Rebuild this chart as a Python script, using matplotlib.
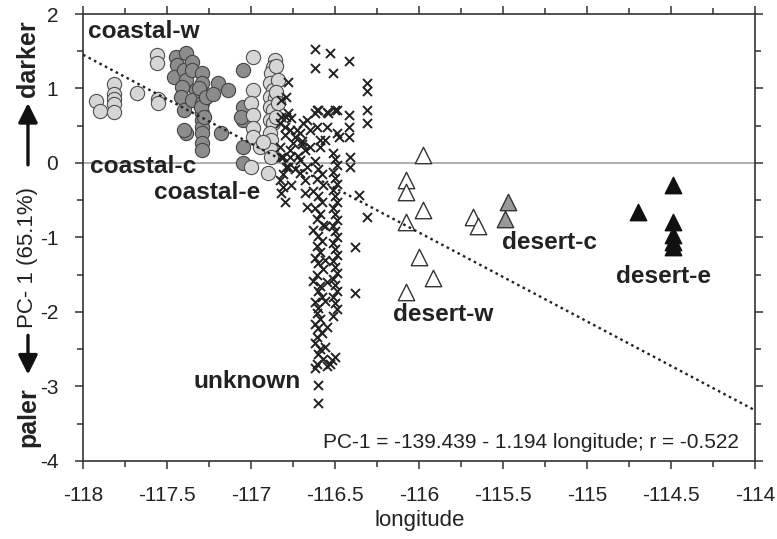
import matplotlib
matplotlib.use("Agg")
import matplotlib.pyplot as plt
import numpy as np

plt.rcParams['font.family'] = ['Liberation Sans', 'DejaVu Sans']

# coastal-w : light circles (west)
cw_lon = [-117.925, -117.90, -117.815, -117.815, -117.815, -117.815, -117.815,
          -117.68, -117.56, -117.56, -117.555, -117.555]
cw_pc1 = [0.83, 0.70, 1.06, 0.93, 0.86, 0.79, 0.68, 0.94, 1.45, 1.34, 0.86, 0.80]

# coastal-c : dark circles
cc_lon = [-117.45, -117.39, -117.44, -117.46, -117.40, -117.39, -117.35, -117.35,
          -117.41, -117.42, -117.40, -117.33, -117.35, -117.39, -117.40,
          -117.29, -117.29, -117.29, -117.29, -117.29, -117.29, -117.29, -117.29,
          -117.29, -117.29, -117.31, -117.30, -117.27, -117.28,
          -117.20, -117.14, -117.18, -117.23,
          -117.05, -117.05, -117.05, -117.05, -117.05, -117.06]
cc_pc1 = [1.42, 1.48, 1.32, 1.15, 1.25, 1.11, 1.36, 1.25,
          1.02, 0.89, 0.71, 0.98, 0.85, 0.40, 0.44,
          1.21, 1.07, 0.94, 0.81, 0.67, 0.58, 0.48, 0.40,
          0.27, 0.17, 1.00, 0.75, 0.88, 0.62,
          1.07, 0.98, 0.40, 0.92,
          1.25, 0.75, 0.58, 0.21, 0.00, 0.62]

# coastal-e : light circles (east)
ce_lon = [-116.99, -116.99, -117.00, -116.99, -116.99, -116.99, -117.00, -116.95,
          -116.86, -116.87, -116.88, -116.89, -116.87, -116.89, -116.86, -116.89,
          -116.87, -116.89, -116.87, -116.89, -116.88, -116.88, -116.88, -116.90,
          -116.85, -116.84, -116.85, -116.84, -116.85, -116.93]
ce_pc1 = [1.42, 0.98, 0.81, 0.64, 0.47, 0.35, -0.05, 0.21,
          1.38, 1.29, 1.21, 1.07, 0.98, 0.89, 0.87, 0.75,
          0.71, 0.58, 0.54, 0.40, 0.31, 0.17, 0.08, -0.13,
          1.30, 1.12, 0.95, 0.80, 0.62, 0.28]

# unknown : crosses
un_lon = [-116.62, -116.53, -116.42, -116.62, -116.51,
          -116.31, -116.31, -116.31, -116.31,
          -116.42, -116.42, -116.42, -116.41, -116.41,
          -116.60, -116.55, -116.49, -116.48,
          -116.36, -116.31, -116.38, -116.38, -116.60, -116.60,
          # scatter next to the coastal-e circles
          -116.78, -116.82, -116.78, -116.80, -116.83, -116.77, -116.61, -116.67,
          -116.71, -116.65, -116.77, -116.81, -116.78, -116.71, -116.65, -116.59,
          -116.55, -116.82, -116.79, -116.83, -116.82, -116.79, -116.83, -116.81,
          -116.82, -116.80, -116.77, -116.75, -116.73, -116.69, -116.68, -116.67,
          -116.71, -116.68, -116.68, -116.67, -116.62, -116.61, -116.59, -116.56,
          -116.54, -116.50, -116.49, -116.51, -116.79, -116.74, -116.70, -116.76,
          -116.80, -116.76, -116.72, -116.81, -116.74, -116.70,
          # column near -116.6
          -116.62, -116.60, -116.58, -116.61, -116.57, -116.63, -116.60, -116.58,
          -116.62, -116.59, -116.61, -116.57, -116.63, -116.60, -116.58, -116.61,
          -116.59, -116.62, -116.60, -116.57, -116.61, -116.63, -116.59, -116.60,
          -116.58, -116.62, -116.60, -116.61, -116.59, -116.62, -116.60, -116.58,
          -116.61, -116.62, -116.59, -116.60, -116.57, -116.61, -116.62,
          -116.56, -116.56, -116.55, -116.56, -116.55, -116.56, -116.55,
          # column near -116.5
          -116.50, -116.49, -116.51, -116.50, -116.49, -116.51, -116.50, -116.49,
          -116.51, -116.50, -116.49, -116.51, -116.50, -116.49, -116.51, -116.50,
          -116.49, -116.51, -116.50, -116.49, -116.51, -116.50, -116.49, -116.51,
          -116.50, -116.49, -116.51, -116.50, -116.52, -116.53]
un_pc1 = [1.53, 1.48, 1.37, 1.28, 1.21,
          1.07, 0.96, 0.71, 0.54,
          0.64, 0.48, 0.35, 0.08, -0.05,
          0.71, 0.68, 0.71, 0.35,
          -0.43, -0.72, -1.13, -1.74, -2.98, -3.22,
          1.09, 0.62, 0.67, 0.48, 0.54, 0.44, 0.71, 0.58,
          0.40, 0.44, 0.17, 0.08, -0.05, 0.04, 0.21, 0.31,
          0.48, 0.85, 0.62, 0.21, 0.08, -0.05, -0.23, -0.32,
          -0.40, -0.52, 0.08, 0.27, 0.44, 0.54, 0.17, -0.05,
          -0.13, -0.23, -0.40, -0.59, 0.67, 0.48, 0.21, 0.31,
          0.67, 0.71, 0.40, 0.13, 0.89, 0.35, 0.25, -0.30,
          0.38, 0.60, 0.10, -0.15, -0.08, 0.30,
          0.02, -0.08, -0.15, -0.22, -0.30, -0.38, -0.45, -0.52,
          -0.60, -0.68, -0.75, -0.83, -0.90, -0.98, -1.05, -1.12,
          -1.20, -1.28, -1.35, -1.42, -1.50, -1.58, -1.65, -1.72,
          -1.80, -1.87, -1.95, -2.02, -2.10, -2.16, -2.22, -2.28,
          -2.34, -2.42, -2.50, -2.56, -2.63, -2.70, -2.76,
          -0.85, -1.30, -1.60, -1.85, -2.20, -2.47, -2.72,
          0.05, -0.03, -0.12, -0.20, -0.28, -0.36, -0.44, -0.52,
          -0.60, -0.68, -0.76, -0.84, -0.92, -1.00, -1.08, -1.16,
          -1.24, -1.32, -1.40, -1.48, -1.56, -1.64, -1.72, -1.80,
          -1.88, -1.96, -2.05, -2.60, -2.64, -2.70]

# desert-w : open triangles
dw_lon = [-115.98, -116.08, -116.08, -115.98, -116.08, -116.00, -115.92, -116.08,
          -115.68, -115.65]
dw_pc1 = [0.11, -0.23, -0.39, -0.63, -0.79, -1.26, -1.54, -1.73,
          -0.72, -0.85]

# desert-c : grey triangles
dc_lon = [-115.47, -115.49]
dc_pc1 = [-0.52, -0.75]

# desert-e : black triangles
de_lon = [-114.49, -114.70, -114.49, -114.49, -114.49, -114.49]
de_pc1 = [-0.30, -0.66, -0.79, -0.97, -1.06, -1.13]

# regression
intercept = -139.439
slope = -1.194

fig = plt.figure(figsize=(7.77, 5.39), dpi=100)
ax = fig.add_axes([0.107, 0.145, 0.865, 0.829])

ax.axhline(0, color='#a8a8a8', lw=1.3, zorder=1)
xl = np.array([-118, -114])
ax.plot(xl, intercept + slope * xl, color='#222222', lw=1.7,
        linestyle=(0, (1.1, 1.5)), zorder=5)

ax.scatter(cw_lon, cw_pc1, s=105, c='#d6d6d6', edgecolors='#505050', linewidths=0.8, zorder=3)
ax.scatter(cc_lon, cc_pc1, s=105, c='#8c8c8c', edgecolors='#454545', linewidths=0.8, zorder=3)
ax.scatter(ce_lon, ce_pc1, s=105, c='#d6d6d6', edgecolors='#505050', linewidths=0.8, zorder=3)
ax.scatter(un_lon, un_pc1, s=42, marker='x', c='#222222', linewidths=1.4, zorder=4)
ax.scatter(dw_lon, dw_pc1, s=140, marker='^', c='white', edgecolors='#333333', linewidths=1.0, zorder=3)
ax.scatter(dc_lon, dc_pc1, s=140, marker='^', c='#999999', edgecolors='#333333', linewidths=1.0, zorder=3)
ax.scatter(de_lon, de_pc1, s=140, marker='^', c='#111111', edgecolors='#111111', linewidths=1.0, zorder=3)

lab = dict(fontsize=17.6, fontweight='bold', color='#222222', va='center', ha='left', zorder=6)
ax.text(-117.97, 1.76, 'coastal-w', **lab)
ax.text(-117.96, -0.05, 'coastal-c', **lab)
ax.text(-117.58, -0.39, 'coastal-e', **lab)
ax.text(-117.345, -2.94, 'unknown', **lab)
ax.text(-116.155, -2.04, 'desert-w', **lab)
ax.text(-115.506, -1.07, 'desert-c', **lab)
ax.text(-114.83, -1.53, 'desert-e', **lab)
ax.text(-114.10, -3.76, 'PC-1 = -139.439 - 1.194 longitude; r = -0.522',
        fontsize=15, color='#222222', ha='right', va='center')

ax.set_xlim(-118, -114)
ax.set_ylim(-4, 2)
ax.set_xticks(np.arange(-118, -113.9, 0.5))
ax.set_xticklabels(['-118', '-117.5', '-117', '-116.5', '-116', '-115.5', '-115', '-114.5', '-114'])
ax.set_xticks(np.arange(-118, -113.9, 0.25), minor=True)
ax.set_yticks(np.arange(-4, 2.1, 1))
ax.set_yticklabels(['-4', '-3', '-2', '-1', '0', '1', '2'])
ax.set_yticks(np.arange(-4, 2.1, 0.5), minor=True)
ax.tick_params(which='both', direction='out', top=True, right=True,
               labelsize=15, color='#333333', labelcolor='#222222', width=1.1)
ax.tick_params(which='major', length=6)
ax.tick_params(axis='x', which='major', pad=12)
ax.tick_params(axis='y', which='major', pad=12)
ax.tick_params(which='minor', length=4)
for s in ax.spines.values():
    s.set_color('#333333')
    s.set_linewidth(1.2)

ax.set_xlabel('longitude', fontsize=16, color='#222222', labelpad=4)

# y label pieces with arrows
fig.text(0.036, 0.226, 'paler', rotation=90, fontsize=18, fontweight='bold',
         ha='center', va='center', color='#222222')
fig.text(0.036, 0.523, 'PC- 1 (65.1%)', rotation=90, fontsize=16,
         ha='center', va='center', color='#222222')
fig.text(0.036, 0.892, 'darker', rotation=90, fontsize=18, fontweight='bold',
         ha='center', va='center', color='#222222')
arr = dict(arrowstyle='-|>,head_length=0.9,head_width=0.45', color='#111111', lw=2.4)
fig.add_artist(matplotlib.patches.FancyArrowPatch((0.036, 0.383), (0.036, 0.300),
               transform=fig.transFigure, mutation_scale=13, **arr))
fig.add_artist(matplotlib.patches.FancyArrowPatch((0.036, 0.689), (0.036, 0.814),
               transform=fig.transFigure, mutation_scale=13, **arr))

fig.savefig('out.png', dpi=100)
